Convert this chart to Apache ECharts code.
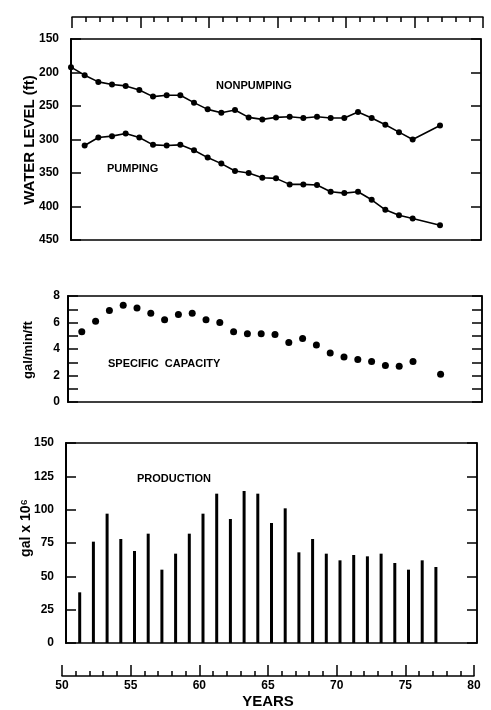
<!DOCTYPE html>
<html><head><meta charset="utf-8">
<script src="https://cdn.jsdelivr.net/npm/echarts@6/dist/echarts.min.js"></script>
<style>html,body{margin:0;padding:0;background:#fff}#c{width:491px;height:710px}</style>
</head><body><div id="c"></div>
<script>
// ---- data ----
const years = [50,51,52,53,54,55,56,57,58,59,60,61,62,63,64,65,66,67,68,69,70,71,72,73,74,75,76,77];
const nonpumping = [192,204,214,218,220,226,236,234,234,245,255,260,256,267,270,267,266,268,266,268,268,259,268,278,289,300,null,279];
const pumping = [null,309,297,295,291,297,308,309,308,316,327,336,347,350,357,358,367,367,368,378,380,378,390,405,413,418,null,428];
const capacity = [null,5.3,6.1,6.9,7.3,7.1,6.7,6.2,6.6,6.7,6.2,6.0,5.3,5.15,5.15,5.1,4.5,4.8,4.3,3.7,3.4,3.2,3.05,2.75,2.7,3.05,null,2.1];
const prodYears = [51,52,53,54,55,56,57,58,59,60,61,62,63,64,65,66,67,68,69,70,71,72,73,74,75,76,77];
const production = [38,76,97,78,69,82,55,67,82,97,112,93,114,112,90,101,68,78,67,62,66,65,67,60,55,62,57];
const yearTicks = [50,55,60,65,70,75,80];
const levelTicks = [150,200,250,300,350,400,450];
const capTicks = [0,2,4,6,8];
const prodTicks = [0,25,50,75,100,125,150];

const pairs = (xs, ys) => xs.map((x,i)=>[x, ys[i]]).filter(p => p[1] !== null);
const FONT = "'Liberation Sans', Arial, sans-serif";
const lbl = {color:'#000', fontFamily:FONT, fontWeight:'bold', fontSize:12};

function panelX(g){ return {type:'value', gridIndex:g, min:yearTicks[0], max:yearTicks[yearTicks.length-1], interval:5, show:false}; }
function panelY(g, ticks, step, pos, showLabel, extra){
  return Object.assign({type:'value', gridIndex:g, position:pos, min:ticks[0], max:ticks[ticks.length-1], interval:step,
    axisLine:{show:true, lineStyle:{color:'#000', width: pos==='left'?2:1.5}},
    axisTick:{show:true, inside:true, length:10, lineStyle:{color:'#000', width:1.5}},
    axisLabel:{show:showLabel, margin:12, ...lbl},
    splitLine:{show:false}}, extra||{});
}
function ruler(g, pos){
  return {type:'value', gridIndex:g, position:pos, min:yearTicks[0], max:yearTicks[yearTicks.length-1], interval:5,
    axisLine:{show:true, lineStyle:{color:'#000', width:1.5}},
    axisTick:{show:true, inside:true, length:11, lineStyle:{color:'#000', width:1.5}},
    minorTick:{show:true, splitNumber:5, length:5, lineStyle:{color:'#000', width:1.5}},
    axisLabel:{show: pos==='bottom', margin:4, ...lbl},
    splitLine:{show:false}, minorSplitLine:{show:false},
    name: pos==='bottom' ? 'YEARS' : '', nameLocation:'middle', nameGap:18,
    nameTextStyle:{color:'#000', fontFamily:FONT, fontWeight:'bold', fontSize:15}};
}
const border = {show:true, borderColor:'#000', borderWidth:1.5, backgroundColor:'transparent'};

const chart = echarts.init(document.getElementById('c'));
chart.setOption({
  animation:false,
  backgroundColor:'#fff',
  grid:[
    Object.assign({left:71, right:10, top:39, height:201}, border),
    Object.assign({left:68, right:9, top:296, height:106}, border),
    Object.assign({left:66, right:14, top:443, height:200}, border),
    {left:72, right:8, top:7, height:10, show:false},
    {left:62, right:17, top:668, height:10, show:false}
  ],
  xAxis:[panelX(0), panelX(1), panelX(2), ruler(3,'top'), ruler(4,'bottom')],
  yAxis:[
    panelY(0, levelTicks, 50, 'left', true, {inverse:true}),
    panelY(0, levelTicks, 50, 'right', false, {inverse:true}),
    panelY(1, capTicks, 1, 'left', true, {axisLabel:{show:true, margin:8, ...lbl, formatter:v => v%2===0 ? String(v) : ''}}),
    panelY(1, capTicks, 1, 'right', false),
    panelY(2, prodTicks, 25, 'left', true),
    panelY(2, prodTicks, 25, 'right', false),
    {type:'value', gridIndex:3, show:false},
    {type:'value', gridIndex:4, show:false}
  ],
  series:[
    {type:'line', xAxisIndex:0, yAxisIndex:0, data:pairs(years, nonpumping), symbol:'circle', symbolSize:6,
      itemStyle:{color:'#000', opacity:1}, lineStyle:{color:'#000', width:1.6}},
    {type:'line', xAxisIndex:0, yAxisIndex:0, data:pairs(years, pumping), symbol:'circle', symbolSize:6,
      itemStyle:{color:'#000', opacity:1}, lineStyle:{color:'#000', width:1.6}},
    {type:'scatter', xAxisIndex:1, yAxisIndex:2, data:pairs(years, capacity), symbol:'circle', symbolSize:7,
      itemStyle:{color:'#000', opacity:1}},
    {type:'bar', xAxisIndex:2, yAxisIndex:4, data:pairs(prodYears, production), barWidth:3,
      itemStyle:{color:'#000'}}
  ],
  graphic:[
    {type:'text', left:216, top:80, style:{text:'NONPUMPING', font:"bold 11px "+FONT, fill:'#000'}},
    {type:'text', left:107, top:163, style:{text:'PUMPING', font:"bold 11px "+FONT, fill:'#000'}},
    {type:'text', left:108, top:358, style:{text:'SPECIFIC  CAPACITY', font:"bold 11px "+FONT, fill:'#000'}},
    {type:'text', left:137, top:473, style:{text:'PRODUCTION', font:"bold 11px "+FONT, fill:'#000'}},
    {type:'text', x:30, y:140, rotation:Math.PI/2, style:{text:'WATER LEVEL (ft)', font:"bold 15px "+FONT, fill:'#000', align:'center', verticalAlign:'middle'}},
    {type:'text', x:28, y:350, rotation:Math.PI/2, style:{text:'gal/min/ft', font:"bold 13px "+FONT, fill:'#000', align:'center', verticalAlign:'middle'}},
    {type:'text', x:26, y:528, rotation:Math.PI/2, style:{text:'gal x 10\u2076', font:"bold 14px "+FONT, fill:'#000', align:'center', verticalAlign:'middle'}}
  ]
});
</script></body></html>
